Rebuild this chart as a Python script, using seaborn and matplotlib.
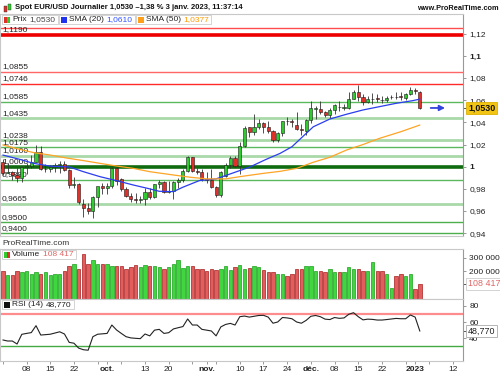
import numpy as np
import seaborn as sns
import matplotlib.pyplot as plt
from matplotlib.patches import Rectangle
from matplotlib.transforms import Affine2D

# daily candles, 1 Sep 2022 -> 3 Jan 2023 (trading day index 0..88)
opens = [1.0040, 0.9945, 0.9950, 0.9925, 0.9900, 1.0000, 1.0005, 1.0045, 1.0130, 0.9975,
         0.9980, 0.9995, 1.0015, 1.0025, 0.9970, 0.9835, 0.9840, 0.9665, 0.9625, 0.9600,
         0.9725, 0.9830, 0.9805, 0.9830, 0.9985, 0.9890, 0.9795, 0.9740, 0.9708, 0.9703,
         0.9705, 0.9775, 0.9725, 0.9840, 0.9860, 0.9770, 0.9778, 0.9860, 0.9880, 0.9960,
         1.0085, 0.9960, 0.9950, 0.9885, 0.9878, 0.9815, 0.9745, 0.9915, 1.0015, 1.0075,
         1.0010, 1.0190, 1.0355, 1.0315, 1.0355, 1.0390, 1.0355, 1.0320, 1.0240, 1.0305,
         1.0415, 1.0410, 1.0375, 1.0340, 1.0320, 1.0425, 1.0525, 1.0525, 1.0495, 1.0465,
         1.0510, 1.0540, 1.0530, 1.0530, 1.0615, 1.0675, 1.0630, 1.0585, 1.0610, 1.0617,
         1.0605, 1.0600, 1.0625, 1.0632, 1.0635, 1.0620, 1.0655, 1.0695, 1.0675]
highs = [1.0070, 1.0030, 0.9960, 0.9990, 1.0010, 1.0030, 1.0110, 1.0198, 1.0187, 1.0020,
         1.0017, 1.0035, 1.0050, 1.0050, 0.9976, 0.9905, 0.9851, 0.9709, 0.9670, 0.9737,
         0.9818, 0.9853, 0.9855, 0.9999, 0.9999, 0.9900, 0.9815, 0.9760, 0.9760, 0.9740,
         0.9808, 0.9809, 0.9846, 0.9876, 0.9875, 0.9873, 0.9870, 0.9900, 0.9977, 1.0094,
         1.0088, 0.9985, 0.9975, 0.9953, 0.9977, 0.9830, 0.9965, 1.0033, 1.0095, 1.0095,
         1.0222, 1.0365, 1.0362, 1.0480, 1.0430, 1.0400, 1.0410, 1.0330, 1.0310, 1.0415,
         1.0450, 1.0430, 1.0497, 1.0385, 1.0430, 1.0590, 1.0545, 1.0595, 1.0500, 1.0530,
         1.0565, 1.0590, 1.0565, 1.0670, 1.0695, 1.0735, 1.0655, 1.0640, 1.0665, 1.0660,
         1.0640, 1.0635, 1.0645, 1.0670, 1.0675, 1.0665, 1.0715, 1.0710, 1.0685]
lows = [0.9925, 0.9940, 0.9880, 0.9865, 0.9865, 0.9930, 0.9990, 1.0040, 0.9966, 0.9955,
        0.9955, 0.9955, 0.9945, 0.9965, 0.9810, 0.9807, 0.9667, 0.9550, 0.9570, 0.9536,
        0.9635, 0.9750, 0.9750, 0.9810, 0.9835, 0.9784, 0.9729, 0.9685, 0.9670, 0.9670,
        0.9650, 0.9708, 0.9720, 0.9810, 0.9760, 0.9760, 0.9705, 0.9807, 0.9860, 0.9955,
        0.9955, 0.9930, 0.9870, 0.9856, 0.9810, 0.9730, 0.9730, 0.9905, 0.9990, 1.0000,
        0.9935, 1.0180, 1.0270, 1.0290, 1.0340, 1.0300, 1.0300, 1.0225, 1.0225, 1.0280,
        1.0380, 1.0360, 1.0330, 1.0290, 1.0290, 1.0390, 1.0430, 1.0480, 1.0445, 1.0440,
        1.0480, 1.0500, 1.0510, 1.0520, 1.0610, 1.0590, 1.0560, 1.0575, 1.0570, 1.0585,
        1.0575, 1.0580, 1.0610, 1.0615, 1.0600, 1.0605, 1.0650, 1.0655, 1.0520]
closes = [0.9945, 0.9955, 0.9925, 0.9900, 1.0000, 1.0005, 1.0045, 1.0130, 0.9975, 0.9980,
          0.9995, 1.0015, 1.0025, 0.9970, 0.9835, 0.9840, 0.9685, 0.9625, 0.9600, 0.9725,
          0.9830, 0.9805, 0.9830, 0.9985, 0.9875, 0.9795, 0.9740, 0.9705, 0.9703, 0.9708,
          0.9775, 0.9725, 0.9840, 0.9860, 0.9770, 0.9778, 0.9860, 0.9880, 0.9960, 1.0085,
          0.9960, 0.9955, 0.9885, 0.9880, 0.9815, 0.9745, 0.9955, 1.0015, 1.0075, 1.0010,
          1.0190, 1.0350, 1.0315, 1.0355, 1.0390, 1.0355, 1.0320, 1.0240, 1.0305, 1.0415,
          1.0410, 1.0400, 1.0340, 1.0330, 1.0425, 1.0530, 1.0530, 1.0495, 1.0465, 1.0510,
          1.0555, 1.0535, 1.0535, 1.0615, 1.0675, 1.0630, 1.0585, 1.0610, 1.0615, 1.0610,
          1.0600, 1.0620, 1.0630, 1.0628, 1.0630, 1.0655, 1.0695, 1.0685, 1.0530]

volumes = [204000, 172000, 172000, 206000, 192000, 204000, 179000, 194000, 184000, 196000,
           172000, 177000, 179000, 204000, 236000, 251000, 221000, 327000, 251000, 281000,
           254000, 251000, 251000, 238000, 238000, 241000, 216000, 229000, 249000, 229000,
           244000, 241000, 236000, 233000, 216000, 229000, 251000, 281000, 224000, 241000,
           241000, 221000, 214000, 204000, 214000, 211000, 216000, 238000, 209000, 229000,
           244000, 221000, 224000, 241000, 229000, 209000, 192000, 196000, 177000, 184000,
           165000, 177000, 221000, 216000, 238000, 238000, 201000, 206000, 194000, 216000,
           194000, 192000, 192000, 229000, 221000, 221000, 206000, 206000, 266000, 201000,
           201000, 182000, 78000, 167000, 177000, 167000, 182000, 71000, 108417]

rsi = [38.0, 36.7, 36.7, 33.0, 44.9, 46.0, 47.0, 55.5, 44.0, 44.5,
       45.0, 46.5, 48.0, 45.3, 35.0, 34.0, 28.0, 26.0, 25.4, 42.0,
       45.0, 45.5, 46.0, 56.3, 50.2, 46.0, 42.0, 40.5, 40.0, 39.6,
       45.3, 43.0, 50.0, 51.0, 46.0, 46.9, 51.5, 53.0, 54.4, 63.7,
       56.3, 56.3, 51.0, 50.0, 49.0, 43.0, 54.0, 57.0, 58.3, 56.3,
       66.5, 67.3, 66.0, 67.0, 68.0, 68.2, 66.0, 58.5, 60.0, 65.5,
       65.0, 64.0, 60.0, 58.5, 62.0, 67.0, 68.0, 66.5, 63.5, 63.0,
       65.5, 64.5, 65.0, 69.5, 71.4, 66.5, 62.6, 63.5, 63.2, 62.4,
       62.4, 63.0, 63.7, 64.4, 64.0, 64.0, 68.6, 66.0, 48.77]

# moving averages (day index, value)
sma20_day = [0, 3.5, 6.5, 10, 14, 17, 20.5, 24, 27.5, 30.5, 33, 36, 38, 41.5, 45, 48,
             52, 55.5, 58.5, 61, 63.5, 65.5, 69, 72.5, 76, 79.5, 83, 86.5, 88]
sma20_val = [1.0105, 1.0067, 1.0030, 1.0005, 0.9998, 0.9955, 0.9910, 0.9874, 0.9835,
             0.9805, 0.9778, 0.9775, 0.9815, 0.9875, 0.9890, 0.9935, 0.9995, 1.0065,
             1.0120, 1.0180, 1.0280, 1.0360, 1.0430, 1.0473, 1.0512, 1.0542, 1.0572,
             1.0596, 1.0610]
sma50_day = [0, 3.5, 6.5, 10, 13.5, 17, 20.5, 24, 27.5, 31, 36, 39.5, 43, 47, 50, 55,
             58.5, 62, 65.5, 69, 72.5, 76, 79.5, 84, 88]
sma50_val = [1.0196, 1.0157, 1.0127, 1.0105, 1.0078, 1.0055, 1.0030, 1.0006, 0.9985,
             0.9955, 0.9925, 0.9905, 0.9890, 0.9890, 0.9910, 0.9940, 0.9958, 0.9985,
             1.0040, 1.0085, 1.0150, 1.0200, 1.0256, 1.0316, 1.0376]

levels = [1.1250, 1.1190, 1.0855, 1.0746, 1.0585, 1.0435, 1.0238, 1.0175, 1.0100,
          1.0000, 0.9880, 0.9665, 0.9500, 0.9400]
level_labels = ['1,1250', '1,1190', '1,0855', '1,0746', '1,0585', '1,0435', '1,0238',
                '1,0175', '1,0100', '1,0000', '0,9880', '0,9665', '0,9500', '0,9400']

price_ticks = [0.94, 0.96, 0.98, 1.0, 1.02, 1.04, 1.06, 1.08, 1.1, 1.12]
price_tick_labels = ['0,94', '0,96', '0,98', '1', '1,02', '1,04', '1,06', '1,08', '1,1', '1,12']

date_idx = [5, 10, 15, 22, 30, 35, 43, 50, 55, 60, 65, 70, 75, 80, 87, 95]
date_labels = ['08', '15', '22', 'oct.', '13', '20', 'nov.', '10', '17', '24', 'déc.',
               '08', '15', '22', '2023', '12']
week_idx = [0, 20, 25, 40, 45, 85, 90]

title = "Spot EUR/USD Journalier 1,0530 \u20131,38 % 3 janv. 2023, 11:37:14"

sns.set_style("white")
plt.rcParams['font.family'] = ['Liberation Sans Narrow', 'Liberation Sans', 'DejaVu Sans']

fig = plt.figure(figsize=(5, 3.75), dpi=100)
PX = Affine2D().scale(1 / 500, -1 / 375).translate(0, 1) + fig.transFigure
renderer = fig.canvas.get_renderer()

GREEN = '#2ecc2e'
RED = '#e0302a'
XL = (-0.6, 97.1)
FS = 6.0


def panel(y0, y1):
    ax = fig.add_axes([0, 1 - y1 / 375, 463 / 500, (y1 - y0) / 375])
    for s in ax.spines.values():
        s.set_color('#c8c8c8')
        s.set_linewidth(0.8)
    ax.spines['right'].set_color('#999999')
    ax.set_xlim(*XL)
    ax.yaxis.tick_right()
    ax.tick_params(axis='y', right=True, left=False, length=2.5, width=0.6,
                   color='#888888', labelsize=FS, pad=2, labelcolor='#222222')
    ax.tick_params(axis='x', bottom=False, labelbottom=False)
    return ax


def side_label(ax, val, txt, fc, ec, tc, bold=False):
    ax.annotate(txt, xy=(1, val), xycoords=('axes fraction', 'data'),
                xytext=(5, 0), textcoords='offset pixels', ha='left', va='center',
                fontsize=6.4, color=tc, fontweight='bold' if bold else 'normal',
                annotation_clip=False, zorder=8,
                bbox=dict(boxstyle='square,pad=0.18', fc=fc, ec=ec, lw=0.6))
    ax.plot([1, 1.006], [val, val], transform=ax.get_yaxis_transform(),
            color='#555555', lw=0.7, clip_on=False)


def label(x, y, s, color='#222222', size=FS, weight='normal', ha='left'):
    t = fig.text(x, y, s, transform=PX, fontsize=size, color=color, fontweight=weight,
                 ha=ha, va='center', zorder=7)
    return t.get_window_extent(renderer).width


def legend_row(x, y, parts):
    # parts: ('sq', [colors]) or ('tx', text, color); boxes laid out left to right
    x0 = x
    x += 2
    for p in parts:
        if p[0] == 'sq':
            w = 6 / len(p[1])
            for k, col in enumerate(p[1]):
                fig.add_artist(Rectangle((x + k * w, y - 3), w, 6, transform=PX,
                                         fc=col, ec='none', zorder=6))
            x += 8
        else:
            x += label(x, y, p[1], color=p[2]) + 2.5
    fig.add_artist(Rectangle((x0, y - 4.75), x - x0, 9.5, transform=PX,
                             fc='white', ec='#cccccc', lw=0.6, zorder=5))
    return x + 1


idx = np.arange(len(closes))
o = np.array(opens)
c = np.array(closes)
up = c >= o
body_col = np.where(up, GREEN, RED)

# ---- price panel
ax = panel(14, 236)
ax.set_ylim(0.93745, 1.1378)
level_styles = [('#ff4d4d', 1.0), ('#ee0000', 2.6), ('#ff6666', 1.0), ('#ff2a2a', 1.0),
                ('#5cb85c', 1.0), ('#a9d9a9', 2.0), ('#a9d9a9', 2.0), ('#5cb85c', 1.0),
                ('#a9d9a9', 2.0), ('#0f6b0f', 2.6), ('#5cb85c', 1.0), ('#a9d9a9', 2.0),
                ('#4caf4c', 1.0), ('#4caf4c', 1.0)]
for v, lab, (col, lw) in zip(levels, level_labels, level_styles):
    ax.axhline(v, color=col, lw=lw, zorder=1)
    if v < 1.12:
        ax.annotate(lab, xy=(0.004, v), xycoords=('axes fraction', 'data'),
                    xytext=(0, 1.5), textcoords='offset pixels', va='bottom', ha='left',
                    fontsize=FS, color='#222222', zorder=2)

ax.vlines(idx, lows, highs, color='#333333', lw=0.6, zorder=3)
ax.bar(idx, c - o, bottom=o, width=0.66, color=body_col, edgecolor='#1a1a1a',
       linewidth=0.4, zorder=4)
sns.lineplot(x=sma20_day, y=sma20_val, ax=ax, color='#2a3df0', linewidth=0.9, zorder=5)
sns.lineplot(x=sma50_day, y=sma50_val, ax=ax, color='#ffa424', linewidth=0.9, zorder=5)
ax.set_xlabel('')
ax.set_ylabel('')
ax.set_yticks(price_ticks, price_tick_labels)
for t in ax.get_yticklabels():
    if t.get_text() in ('1', '1,1'):
        t.set_fontweight('bold')
ax.annotate('', xy=(idx[-1] + 5.9, c[-1]), xytext=(idx[-1] + 1.7, c[-1]),
            arrowprops=dict(arrowstyle='-|>', color='#3344dd', lw=1.3, mutation_scale=8),
            zorder=6)
side_label(ax, c[-1], '1,0530', '#f2c414', '#ddb000', '#111111', bold=True)

# ---- volume panel
axv = panel(249, 298.5)
axv.set_ylim(0, 365000)
axv.bar(idx, volumes, width=0.72, color=np.where(up, '#3fd63f', '#e35d5d'),
        edgecolor=np.where(up, '#1e9e1e', '#a82020'), linewidth=0.5)
axv.set_yticks([200000, 300000], ['200 000', '300 000'])
side_label(axv, volumes[-1], '108 417', 'white', '#cccccc', '#e06666')

# ---- RSI panel
axr = panel(299, 360.5)
axr.set_ylim(12.8, 88.2)
axr.axhline(70, color='#ff8c8c', lw=1.6)
axr.axhline(30, color='#44aa44', lw=1.0)
sns.lineplot(x=idx, y=rsi, ax=axr, color='#222222', linewidth=0.8)
axr.set_xlabel('')
axr.set_ylabel('')
axr.set_yticks([40, 60, 80], ['40', '60', '80'])
side_label(axr, rsi[-1], '48,770', 'white', '#aaaaaa', '#222222')
axr.set_xticks(date_idx, date_labels)
axr.set_xticks(week_idx, minor=True)
axr.tick_params(axis='x', which='both', bottom=True, labelbottom=True, length=2.5,
                width=0.6, color='#888888', labelsize=FS, pad=1.5, labelcolor='#222222')
for t in axr.get_xticklabels():
    if not t.get_text().isdigit() or t.get_text() == '2023':
        t.set_fontweight('bold')

# ---- header, legends, captions
label(15, 7.5, title, color='#111111', size=5.5, weight='bold')
label(499, 8.5, 'www.ProRealTime.com', color='#111111', size=5.3, weight='bold', ha='right')
fig.add_artist(Rectangle((3.5, 6), 3, 6, transform=PX, fc=RED, ec='#333333', lw=0.3))
fig.add_artist(Rectangle((8, 4), 3, 6, transform=PX, fc=GREEN, ec='#333333', lw=0.3))

nx = legend_row(2, 19.5, [('sq', [RED, GREEN]), ('tx', 'Prix', '#222222'),
                          ('tx', '1,0530', '#444444')])
nx = legend_row(nx, 19.5, [('sq', ['#2233ee']), ('tx', 'SMA (20)', '#222222'),
                           ('tx', '1,0610', '#3355ff')])
legend_row(nx, 19.5, [('sq', ['#ff9f1a']), ('tx', 'SMA (50)', '#222222'),
                      ('tx', '1,0377', '#ff9900')])

label(2, 243.5, 'ProRealTime.com', color='#333333')

legend_row(2, 254.5, [('sq', [GREEN, RED]), ('tx', 'Volume', '#222222'),
                      ('tx', '108 417', '#e06666')])
legend_row(2, 304.5, [('sq', ['#111111']), ('tx', 'RSI (14)', '#222222'),
                      ('tx', '48,770', '#222222')])

fig.savefig('out.png', dpi=100)
